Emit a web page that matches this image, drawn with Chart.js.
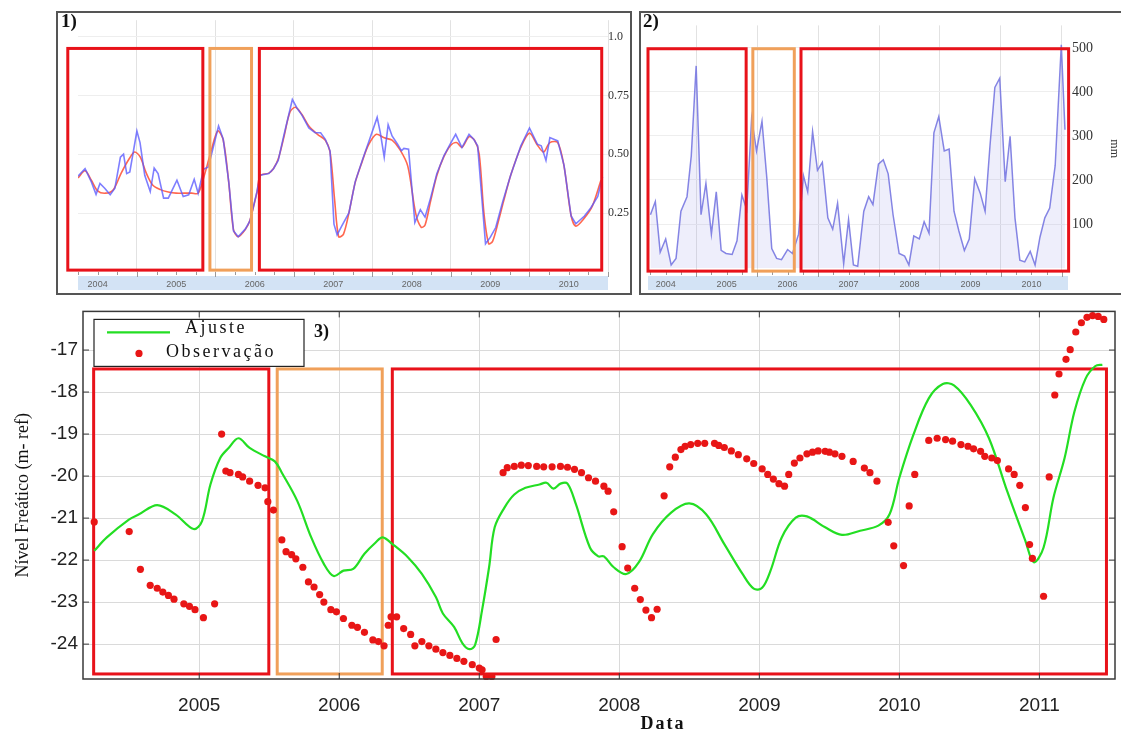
<!DOCTYPE html>
<html>
<head>
<meta charset="utf-8">
<script src="https://cdn.jsdelivr.net/npm/chart.js@4.4.1/dist/chart.umd.min.js"></script>
<style>
  body { margin: 0; background: #fff; width: 1121px; height: 733px; overflow: hidden; position: relative; }
  .moldura { position: absolute; border: 2px solid #555; box-sizing: border-box; }
  canvas { position: absolute; }
  .rotulo { position: absolute; font: bold 19px "Liberation Serif", serif; color: #111; }
</style>
</head>
<body>
<div class="moldura" style="left:56px;top:11px;width:576px;height:284px"></div>
<div class="moldura" style="left:639px;top:11px;width:492px;height:284px"></div>
<canvas id="ndvi" style="left:58px;top:13px" width="572" height="280"></canvas>
<canvas id="chuva" style="left:641px;top:13px" width="480" height="280"></canvas>
<canvas id="nivel" style="left:0;top:295px" width="1121" height="438"></canvas>
<div class="rotulo" style="left:61px;top:10px">1)</div>
<div class="rotulo" style="left:643px;top:10px">2)</div>

<script>
// ---- eixos / rótulos ----
const yearLabels = [2004, 2005, 2006, 2007, 2008, 2009, 2010];
const yearTicks = [2005, 2006, 2007, 2008, 2009, 2010, 2011];
const ndviTicks = [0.25, 0.5, 0.75, 1.0];
const rainTicks = [100, 200, 300, 400, 500];
const levelTicks = [-24, -23, -22, -21, -20, -19, -18, -17];

// ---- 1) NDVI ----
const ndviYears = [2004.25, 2004.34, 2004.42, 2004.48, 2004.53, 2004.59, 2004.66, 2004.72, 2004.79, 2004.83, 2004.87, 2004.91,
  2005.00, 2005.04, 2005.10, 2005.17, 2005.22, 2005.27, 2005.34, 2005.40, 2005.51, 2005.59, 2005.66, 2005.73, 2005.78, 2005.85, 2005.91,
  2006.04, 2006.10, 2006.17, 2006.23, 2006.29, 2006.38, 2006.44, 2006.53, 2006.57, 2006.68, 2006.74, 2006.80, 2006.87, 2006.98,
  2007.04, 2007.10, 2007.19, 2007.27, 2007.34, 2007.40, 2007.46, 2007.51, 2007.55, 2007.61, 2007.70, 2007.78, 2007.87, 2007.95,
  2008.06, 2008.10, 2008.15, 2008.20, 2008.25, 2008.32, 2008.37, 2008.40, 2008.46, 2008.54, 2008.61, 2008.67, 2008.74, 2008.82, 2008.91,
  2009.00, 2009.06, 2009.14, 2009.23, 2009.29, 2009.34, 2009.44, 2009.50, 2009.57, 2009.66, 2009.76, 2009.89,
  2010.00, 2010.10, 2010.15, 2010.21, 2010.26, 2010.36, 2010.44, 2010.53, 2010.59, 2010.70, 2010.78, 2010.87, 2010.93];
const ndviRaw = [0.407, 0.439, 0.383, 0.330, 0.376, 0.356, 0.328, 0.356, 0.488, 0.501, 0.418, 0.425,
  0.599, 0.550, 0.411, 0.342, 0.442, 0.418, 0.314, 0.314, 0.390, 0.321, 0.328, 0.394, 0.335, 0.436, 0.446,
  0.620, 0.564, 0.383, 0.175, 0.150, 0.182, 0.217, 0.342, 0.411, 0.418, 0.439, 0.474, 0.578, 0.733,
  0.696, 0.668, 0.612, 0.592, 0.592, 0.564, 0.515, 0.203, 0.158, 0.196, 0.251, 0.383, 0.474, 0.550,
  0.657, 0.592, 0.488, 0.626, 0.578, 0.543, 0.515, 0.525, 0.522, 0.210, 0.265, 0.233, 0.314, 0.418, 0.494,
  0.550, 0.585, 0.529, 0.585, 0.564, 0.536, 0.120, 0.147, 0.189, 0.300, 0.411, 0.536,
  0.612, 0.543, 0.536, 0.474, 0.571, 0.557, 0.453, 0.238, 0.205, 0.238, 0.272, 0.321, 0.404];
const ndviFitYears = [2004.25, 2004.34, 2004.42, 2004.50, 2004.60, 2004.70, 2004.80, 2004.90, 2004.97,
  2005.04, 2005.12, 2005.20, 2005.30, 2005.40, 2005.50, 2005.60, 2005.70, 2005.78, 2005.85, 2005.95,
  2006.03, 2006.10, 2006.17, 2006.23, 2006.29, 2006.38, 2006.44, 2006.53, 2006.57, 2006.68, 2006.74, 2006.80, 2006.87, 2006.95,
  2007.02, 2007.10, 2007.19, 2007.30, 2007.40, 2007.46, 2007.52, 2007.57, 2007.63, 2007.70, 2007.78, 2007.87, 2007.95,
  2008.05, 2008.15, 2008.25, 2008.35, 2008.45, 2008.55, 2008.62, 2008.67, 2008.74, 2008.82, 2008.91,
  2009.00, 2009.07, 2009.14, 2009.23, 2009.30, 2009.36, 2009.42, 2009.48, 2009.53, 2009.60, 2009.67, 2009.76, 2009.89,
  2010.00, 2010.10, 2010.18, 2010.26, 2010.36, 2010.44, 2010.53, 2010.59, 2010.70, 2010.80, 2010.91];
const ndviFit = [0.40, 0.43, 0.39, 0.345, 0.335, 0.35, 0.42, 0.48, 0.51,
  0.49, 0.42, 0.37, 0.35, 0.34, 0.335, 0.335, 0.335, 0.335, 0.40, 0.52,
  0.60, 0.56, 0.38, 0.18, 0.15, 0.18, 0.22, 0.34, 0.41, 0.42, 0.44, 0.48, 0.57, 0.68,
  0.70, 0.67, 0.62, 0.585, 0.56, 0.51, 0.30, 0.15, 0.16, 0.25, 0.38, 0.47, 0.54,
  0.585, 0.57, 0.56, 0.52, 0.45, 0.25, 0.19, 0.20, 0.30, 0.41, 0.49,
  0.54, 0.55, 0.53, 0.575, 0.56, 0.50, 0.25, 0.12, 0.13, 0.21, 0.30, 0.41, 0.53,
  0.59, 0.54, 0.51, 0.55, 0.55, 0.45, 0.24, 0.195, 0.23, 0.28, 0.39];

// ---- 2) precipitação (mm) ----
const rainYears = [2004.25, 2004.33, 2004.41, 2004.50, 2004.59, 2004.67, 2004.75, 2004.85, 2004.92,
  2005.00, 2005.08, 2005.16, 2005.25, 2005.33, 2005.41, 2005.49, 2005.59, 2005.67, 2005.75, 2005.83, 2005.91, 2005.99,
  2006.08, 2006.16, 2006.24, 2006.32, 2006.40, 2006.50, 2006.58, 2006.68, 2006.76, 2006.83, 2006.91, 2006.99,
  2007.07, 2007.16, 2007.24, 2007.32, 2007.42, 2007.50, 2007.58, 2007.65, 2007.75, 2007.83, 2007.90, 2007.99,
  2008.07, 2008.15, 2008.23, 2008.33, 2008.42, 2008.49, 2008.57, 2008.66, 2008.74, 2008.82, 2008.90, 2008.98,
  2009.07, 2009.15, 2009.23, 2009.31, 2009.40, 2009.48, 2009.57, 2009.66, 2009.74, 2009.82, 2009.90, 2009.98,
  2010.07, 2010.15, 2010.23, 2010.31, 2010.39, 2010.48, 2010.56, 2010.64, 2010.72, 2010.80, 2010.89, 2010.99, 2011.05];
const rainMm = [121, 151, 36, 66, 7, 22, 129, 162, 255,
  459, 121, 192, 77, 173, 40, 33, 31, 62, 166, 133, 340, 266,
  333, 203, 44, 22, 19, 42, 33, 77, 210, 173, 310, 222,
  240, 114, 88, 147, 10, 110, 7, 4, 129, 162, 144, 236,
  246, 214, 121, 33, 27, 7, 73, 66, 105, 79, 307, 344,
  266, 270, 129, 84, 40, 66, 203, 170, 129, 277, 410, 431,
  196, 299, 114, 18, 14, 38, 7, 70, 114, 136, 233, 507, 314];

// ---- 3) nível freático ----
const fitYears = [2004.25, 2004.34, 2004.50, 2004.57, 2004.70, 2004.83, 2004.96,
  2005.02, 2005.08, 2005.15, 2005.21, 2005.28, 2005.36, 2005.47, 2005.54, 2005.59, 2005.70, 2005.80, 2005.89, 2005.96,
  2006.03, 2006.10, 2006.18, 2006.26, 2006.31, 2006.38, 2006.49, 2006.59, 2006.69, 2006.74, 2006.82, 2006.88, 2006.93, 2006.97,
  2007.02, 2007.07, 2007.11, 2007.18, 2007.25, 2007.33, 2007.43, 2007.48, 2007.53, 2007.58, 2007.63, 2007.69, 2007.79, 2007.85, 2007.89, 2007.96,
  2008.05, 2008.14, 2008.24, 2008.37, 2008.50, 2008.62, 2008.75, 2008.88, 2008.96,
  2009.02, 2009.08, 2009.16, 2009.26, 2009.34, 2009.47, 2009.59, 2009.72, 2009.85, 2009.93,
  2010.00, 2010.10, 2010.21, 2010.31, 2010.39, 2010.51, 2010.64, 2010.77, 2010.90, 2010.96,
  2011.03, 2011.10, 2011.18, 2011.25, 2011.33, 2011.40, 2011.45];
const fitLevel = [-21.78, -21.46, -21.03, -20.91, -20.69, -20.91, -21.26,
  -21.07, -20.20, -19.57, -19.33, -19.10, -19.33, -19.53, -19.65, -19.92, -20.59, -21.46, -22.09, -22.38,
  -22.25, -22.21, -21.85, -21.58, -21.46, -21.62, -21.93, -22.33, -22.88, -23.27, -23.59, -23.98, -24.12, -24.02,
  -23.19, -22.17, -21.22, -20.75, -20.44, -20.28, -20.20, -20.16, -20.30, -20.18, -20.18, -20.67, -21.70, -21.91, -21.91, -22.17,
  -22.33, -22.05, -21.38, -20.87, -20.65, -20.91, -21.62, -22.33, -22.68,
  -22.66, -22.25, -21.46, -20.99, -20.96, -21.22, -21.40, -21.30, -21.18, -20.91,
  -20.04, -19.02, -18.15, -17.81, -17.84, -18.31, -19.10, -20.36, -21.54, -22.05,
  -21.70, -20.52, -19.57, -18.47, -17.68, -17.38, -17.35];
const obsYears = [2004.25, 2004.50, 2004.58, 2004.65, 2004.70, 2004.74, 2004.78, 2004.82, 2004.89, 2004.93, 2004.97,
  2005.03, 2005.11, 2005.16, 2005.19, 2005.22, 2005.28, 2005.31, 2005.36, 2005.42, 2005.47, 2005.49, 2005.53, 2005.59, 2005.62,
  2005.66, 2005.69, 2005.74, 2005.78, 2005.82, 2005.86, 2005.89, 2005.94, 2005.98,
  2006.03, 2006.09, 2006.13, 2006.18, 2006.24, 2006.28, 2006.32, 2006.35, 2006.37, 2006.41, 2006.46, 2006.51, 2006.54, 2006.59,
  2006.64, 2006.69, 2006.74, 2006.79, 2006.84, 2006.89, 2006.95,
  2007.00, 2007.02, 2007.05, 2007.09, 2007.12, 2007.17, 2007.20, 2007.25, 2007.30, 2007.35, 2007.41, 2007.46, 2007.52, 2007.58,
  2007.63, 2007.68, 2007.73, 2007.78, 2007.83, 2007.89, 2007.92, 2007.96,
  2008.02, 2008.06, 2008.11, 2008.15, 2008.19, 2008.23, 2008.27, 2008.32, 2008.36, 2008.40, 2008.44, 2008.47, 2008.51, 2008.56,
  2008.61, 2008.68, 2008.71, 2008.75, 2008.80, 2008.85, 2008.91, 2008.96,
  2009.02, 2009.06, 2009.10, 2009.14, 2009.18, 2009.21, 2009.25, 2009.29, 2009.34, 2009.38, 2009.42, 2009.47, 2009.50, 2009.54,
  2009.59, 2009.67, 2009.75, 2009.79, 2009.84, 2009.92, 2009.96,
  2010.03, 2010.07, 2010.11, 2010.21, 2010.27, 2010.33, 2010.38, 2010.44, 2010.49, 2010.53, 2010.58, 2010.61, 2010.66, 2010.70,
  2010.78, 2010.82, 2010.86, 2010.90, 2010.93, 2010.95,
  2011.03, 2011.07, 2011.11, 2011.14, 2011.19, 2011.22, 2011.26, 2011.30, 2011.34, 2011.38, 2011.42, 2011.46];
const obsLevel = [-21.09, -21.32, -22.22, -22.60, -22.67, -22.76, -22.84, -22.93, -23.04, -23.10, -23.18,
  -23.37, -23.04, -19.00, -19.88, -19.92, -19.96, -20.02, -20.12, -20.22, -20.28, -20.61, -20.81, -21.52, -21.80,
  -21.87, -21.97, -22.17, -22.52, -22.64, -22.82, -23.00, -23.18, -23.23,
  -23.39, -23.55, -23.60, -23.72, -23.90, -23.94, -24.04, -23.55, -23.35, -23.35, -23.63, -23.77, -24.04, -23.94,
  -24.04, -24.12, -24.20, -24.27, -24.34, -24.41, -24.49,
  -24.57, -24.61, -24.77, -24.77, -23.89, -19.92, -19.80, -19.77, -19.74, -19.75, -19.77, -19.78, -19.78, -19.77,
  -19.79, -19.84, -19.92, -20.04, -20.12, -20.24, -20.36, -20.85,
  -21.68, -22.19, -22.67, -22.94, -23.19, -23.37, -23.17, -20.47, -19.78, -19.55, -19.37, -19.29, -19.25, -19.22,
  -19.22, -19.22, -19.27, -19.32, -19.40, -19.49, -19.59, -19.70,
  -19.83, -19.96, -20.07, -20.18, -20.24, -19.96, -19.69, -19.57, -19.47, -19.43, -19.40, -19.41, -19.43, -19.47,
  -19.53, -19.65, -19.81, -19.92, -20.12, -21.10, -21.66,
  -22.13, -20.71, -19.96, -19.15, -19.10, -19.13, -19.17, -19.25, -19.29, -19.35, -19.41, -19.53, -19.57, -19.63,
  -19.83, -19.96, -20.22, -20.75, -21.63, -21.96,
  -22.86, -20.02, -18.07, -17.57, -17.22, -16.99, -16.57, -16.35, -16.22, -16.18, -16.20, -16.27];

// períodos destacados (anos decimais) - vermelho / laranja / vermelho
const periodos1 = [[2004.12, 2005.84], [2005.93, 2006.46], [2006.56, 2010.92]];
const periodos2 = [[2004.21, 2005.82], [2005.93, 2006.61], [2006.72, 2011.11]];
const periodos3 = [[2004.246, 2005.497], [2005.557, 2006.307], [2006.379, 2011.479]];
const coresPeriodo = ['#e8121a', '#f0a05a', '#e8121a'];

const serif = '"Liberation Serif", "Times New Roman", serif';
const sans = '"Liberation Sans", Arial, sans-serif';

function pts(xs, ys) { return xs.map((x, i) => ({ x: x, y: ys[i] })); }

// anos para os eixos dos painéis 1 e 2: linha de grade no início do ano, rótulo no meio
const halfYearTicks = [];
yearLabels.forEach(a => { halfYearTicks.push(a + 0.5); halfYearTicks.push(a + 1); });

// desenha os retângulos dos períodos
const caixas = {
  id: 'caixas',
  afterDatasetsDraw(chart, args, o) {
    if (o.before) return;
    desenhaCaixas(chart, o);
  },
  beforeDatasetsDraw(chart, args, o) {
    if (o.before) desenhaCaixas(chart, o);
  }
};
function desenhaCaixas(chart, o) {
  const { ctx, scales: { x, y } } = chart;
  ctx.save();
  ctx.lineWidth = o.width;
  o.list.forEach((p, i) => {
    const x0 = x.getPixelForValue(p[0]), x1 = x.getPixelForValue(p[1]);
    const y0 = y.getPixelForValue(o.top), y1 = y.getPixelForValue(o.bottom);
    ctx.strokeStyle = coresPeriodo[i];
    ctx.strokeRect(x0, y0, x1 - x0, y1 - y0);
  });
  ctx.restore();
}

// faixa azul clara sob o eixo x (painéis 1 e 2)
const faixa = {
  id: 'faixa',
  beforeDraw(chart) {
    const { ctx, chartArea: a, scales: { x } } = chart;
    ctx.save();
    ctx.fillStyle = '#d3e3f5';
    ctx.fillRect(a.left, a.bottom + 4, a.right - a.left, 14);
    ctx.strokeStyle = '#9a9a9a';
    ctx.lineWidth = 1;
    yearLabels.forEach(ano => {
      [0, 0.25, 0.5, 0.75, 1].forEach(f => {
        const v = ano + f;
        if (v < x.min || v > x.max) return;
        const px = Math.round(x.getPixelForValue(v)) + 0.5;
        ctx.beginPath();
        ctx.moveTo(px, a.bottom);
        ctx.lineTo(px, a.bottom + (f % 1 === 0 ? 5 : 3));
        ctx.stroke();
      });
    });
    ctx.restore();
  }
};

function eixoAnos(min, max) {
  return {
    type: 'linear', min: min, max: max,
    afterBuildTicks: s => { s.ticks = halfYearTicks.map(v => ({ value: v })); },
    afterFit: s => { s.height = 21; },
    ticks: {
      autoSkip: false, maxRotation: 0, padding: 7, color: '#666',
      font: { family: sans, size: 9 },
      callback: v => (v % 1 ? String(Math.floor(v)) : '')
    },
    grid: {
      drawTicks: false,
      color: c => (c.tick && c.tick.value % 1 === 0 ? '#e2e2e2' : 'rgba(0,0,0,0)')
    },
    border: { display: false }
  };
}

// ---- 1) NDVI ----
new Chart(document.getElementById('ndvi'), {
  type: 'line',
  data: {
    datasets: [
      { data: pts(ndviYears, ndviRaw), borderColor: 'rgba(90,90,255,0.78)', borderWidth: 1.6, pointRadius: 0, tension: 0 },
      { data: pts(ndviFitYears, ndviFit), borderColor: 'rgba(255,95,70,0.95)', borderWidth: 1.6, pointRadius: 0, tension: 0.3 }
    ]
  },
  options: {
    responsive: false, animation: false,
    layout: { padding: { left: 20, top: 2, right: 0, bottom: 0 } },
    scales: {
      x: eixoAnos(2004.25, 2011.0),
      y: {
        position: 'right', min: 0, max: 1.07,
        afterBuildTicks: s => { s.ticks = ndviTicks.map(v => ({ value: v })); },
        afterFit: s => { s.width = 22; },
        ticks: {
          padding: 0, color: '#333', font: { family: serif, size: 12 },
          callback: v => (v === 1 ? '1.0' : v.toFixed(2))
        },
        grid: { drawTicks: false, color: '#eeeeee' },
        border: { display: false }
      }
    },
    plugins: {
      legend: { display: false }, tooltip: { enabled: false },
      caixas: { list: periodos1, top: 0.95, bottom: 0.008, width: 3 }
    }
  },
  plugins: [faixa, caixas]
});

// ---- 2) precipitação ----
new Chart(document.getElementById('chuva'), {
  type: 'line',
  data: {
    datasets: [
      { data: pts(rainYears, rainMm), borderColor: 'rgba(120,120,225,0.9)', borderWidth: 1.5, pointRadius: 0, tension: 0,
        fill: 'origin', backgroundColor: 'rgba(140,140,230,0.15)' }
    ]
  },
  options: {
    responsive: false, animation: false,
    layout: { padding: { left: 7, top: 7, right: 0, bottom: 0 } },
    scales: {
      x: eixoAnos(2004.21, 2011.1),
      y: {
        position: 'right', min: -9, max: 551,
        afterBuildTicks: s => { s.ticks = rainTicks.map(v => ({ value: v })); },
        afterFit: s => { s.width = 53; },
        ticks: { padding: 4, color: '#333', font: { family: serif, size: 14 } },
        grid: { drawTicks: false, color: '#eeeeee' },
        border: { display: false },
        title: { display: true, text: 'mm', color: '#333', font: { family: serif, size: 12 }, padding: 0 }
      }
    },
    plugins: {
      legend: { display: false }, tooltip: { enabled: false },
      caixas: { list: periodos2, top: 498, bottom: -7, width: 3 }
    }
  },
  plugins: [faixa, caixas]
});

// ---- 3) nível freático: moldura, legenda e textos ----
const moldura = {
  id: 'moldura',
  afterDraw(chart) {
    const { ctx, chartArea: a, scales: { x, y } } = chart;
    ctx.save();
    ctx.strokeStyle = '#3a3a3a';
    ctx.lineWidth = 1.5;
    ctx.strokeRect(a.left, a.top, a.right - a.left, a.bottom - a.top);
    ctx.lineWidth = 1;
    yearTicks.forEach(v => {
      const px = x.getPixelForValue(v);
      ctx.beginPath();
      ctx.moveTo(px, a.top); ctx.lineTo(px, a.top + 6);
      ctx.moveTo(px, a.bottom); ctx.lineTo(px, a.bottom - 6);
      ctx.stroke();
    });
    levelTicks.forEach(v => {
      const py = y.getPixelForValue(v);
      ctx.beginPath();
      ctx.moveTo(a.left, py); ctx.lineTo(a.left + 6, py);
      ctx.moveTo(a.right, py); ctx.lineTo(a.right - 6, py);
      ctx.stroke();
    });

    // legenda
    const ds = chart.data.datasets;
    const lx = a.left + 11, ly = a.top + 8;
    ctx.fillStyle = '#fff';
    ctx.fillRect(lx, ly, 210, 47);
    ctx.strokeStyle = '#222';
    ctx.lineWidth = 1.2;
    ctx.strokeRect(lx, ly, 210, 47);
    ctx.strokeStyle = ds[0].borderColor;
    ctx.lineWidth = 2.2;
    ctx.beginPath();
    ctx.moveTo(lx + 13, ly + 13); ctx.lineTo(lx + 76, ly + 13);
    ctx.stroke();
    ctx.fillStyle = ds[1].backgroundColor;
    ctx.beginPath();
    ctx.arc(lx + 45, ly + 34, 3.6, 0, Math.PI * 2);
    ctx.fill();
    ctx.fillStyle = '#111';
    ctx.font = '18px ' + serif;
    ctx.letterSpacing = '2.5px';
    ctx.textBaseline = 'middle';
    ctx.textAlign = 'left';
    ctx.fillText(ds[0].label, lx + 91, ly + 9);
    ctx.fillText(ds[1].label, lx + 72, ly + 33);

    ctx.letterSpacing = '0px';
    ctx.font = 'bold 18px ' + serif;
    ctx.fillText('3)', lx + 220, ly + 13);

    ctx.font = 'bold 18px ' + serif;
    ctx.letterSpacing = '2px';
    ctx.textAlign = 'center';
    ctx.fillText('Data', 663, a.bottom + 45);
    ctx.restore();
  }
};

new Chart(document.getElementById('nivel'), {
  type: 'line',
  data: {
    datasets: [
      { label: 'Ajuste', data: pts(fitYears, fitLevel), borderColor: 'rgb(35,222,35)', borderWidth: 2.2,
        pointRadius: 0, tension: 0.35, order: 2 },
      { label: 'Observação', type: 'scatter', data: pts(obsYears, obsLevel), backgroundColor: 'rgb(232,22,22)',
        borderWidth: 0, pointRadius: 3.6, clip: false, order: 1 }
    ]
  },
  options: {
    responsive: false, animation: false,
    layout: { padding: { left: 0, top: 14, right: 6, bottom: 0 } },
    scales: {
      x: {
        type: 'linear', min: 2004.17, max: 2011.54,
        afterBuildTicks: s => { s.ticks = yearTicks.map(v => ({ value: v })); },
        afterFit: s => { s.height = 54; },
        ticks: { autoSkip: false, maxRotation: 0, padding: 15, color: '#222', font: { family: sans, size: 19 },
          callback: v => String(v) },
        grid: { drawTicks: false, color: '#dadada' },
        border: { display: false }
      },
      y: {
        min: -24.83, max: -16.08,
        afterBuildTicks: s => { s.ticks = levelTicks.map(v => ({ value: v })); },
        afterFit: s => { s.width = 83; },
        ticks: { padding: 5, color: '#222', font: { family: sans, size: 19 } },
        grid: { drawTicks: false, color: '#dadada' },
        border: { display: false },
        title: { display: true, text: 'Nível Freático (m- ref)', color: '#111',
          font: { family: serif, size: 18 }, padding: { top: 12 } }
      }
    },
    plugins: {
      legend: { display: false }, tooltip: { enabled: false },
      caixas: { list: periodos3, top: -17.45, bottom: -24.71, width: 3, before: true }
    }
  },
  plugins: [caixas, moldura]
});
</script>
</body>
</html>
